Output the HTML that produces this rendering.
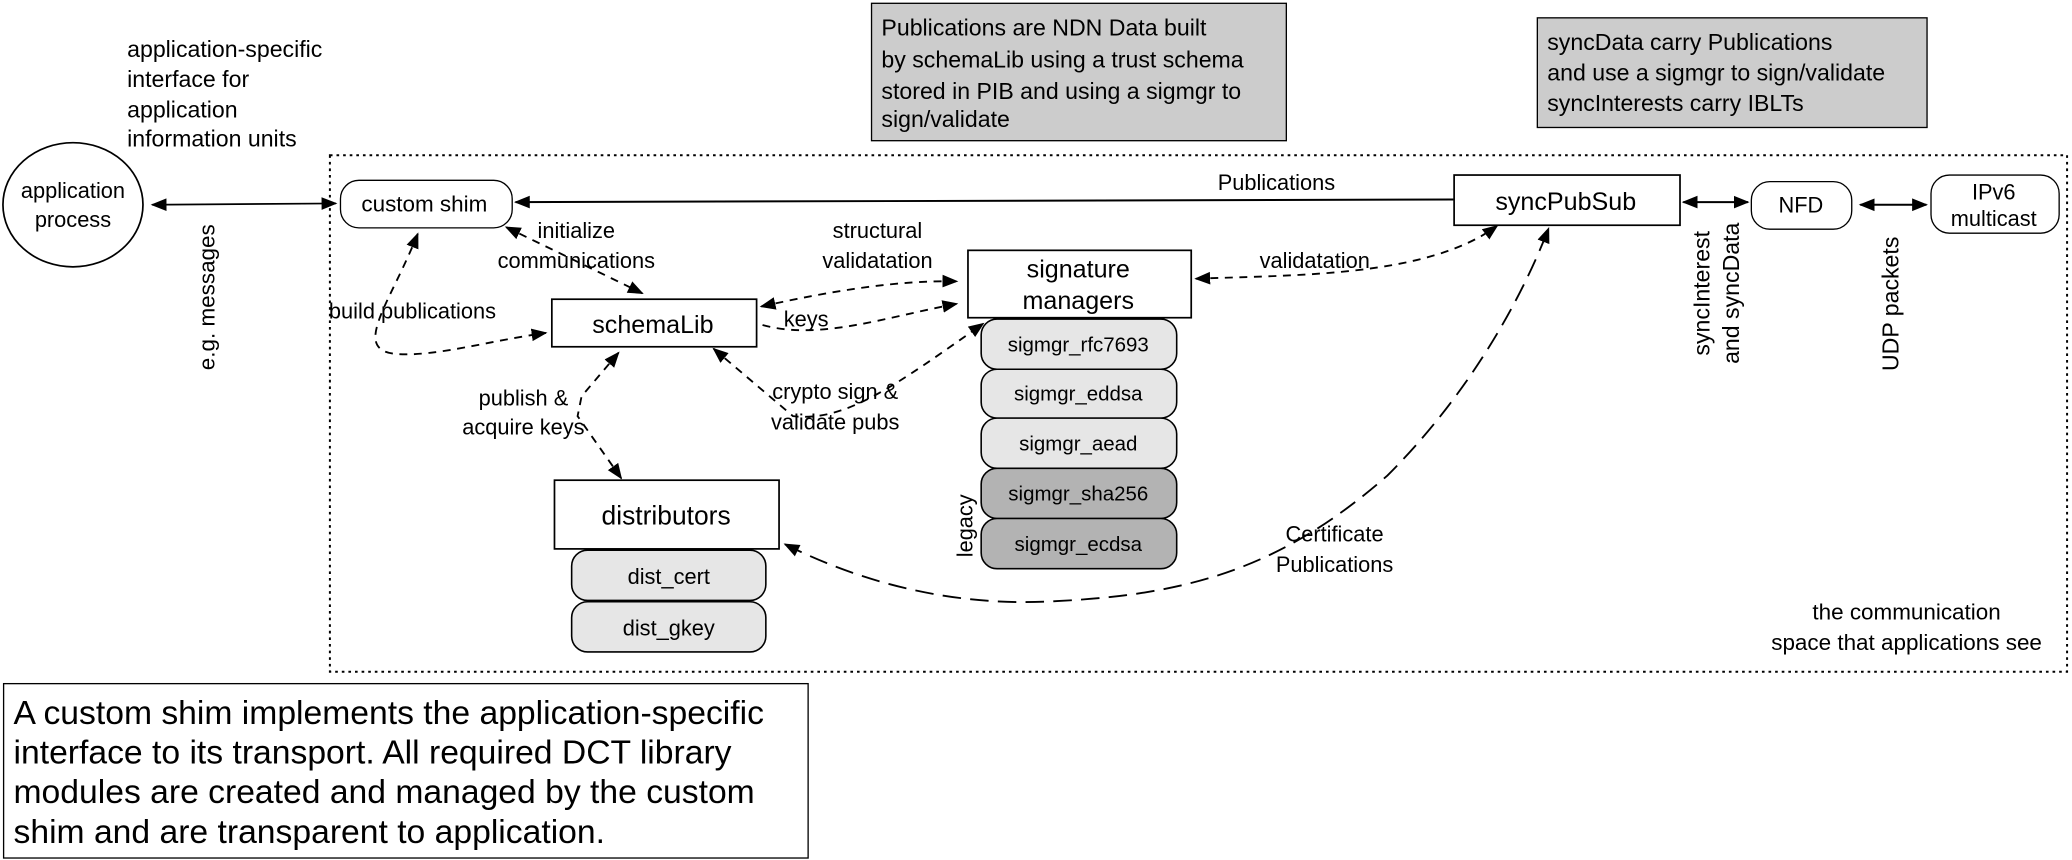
<!DOCTYPE html>
<html><head><meta charset="utf-8"><style>
html,body{margin:0;padding:0;background:#fff}
svg{display:block}
text{font-family:"Liberation Sans",Arial,sans-serif;fill:#000}
</style></head><body>
<svg width="2072" height="860" viewBox="0 0 1568 651" xmlns="http://www.w3.org/2000/svg">
<defs>
<marker id="b" viewBox="0 0 10 10" refX="9" refY="5" markerWidth="12" markerHeight="12" orient="auto-start-reverse" markerUnits="userSpaceOnUse"><path d="M0,1 L10,5 L0,9 z" fill="#000"/></marker>
</defs>
<rect width="1568" height="651" fill="#fff"/>

<rect x="659.5" y="2.5" width="314" height="104" fill="#cccccc" stroke="#000"/>
<g font-size="17.5"><text x="667" y="27">Publications are NDN Data built</text>
<text x="667" y="51">by schemaLib using a trust schema</text>
<text x="667" y="75">stored in PIB and using a sigmgr to</text>
<text x="667" y="96">sign/validate</text></g>
<rect x="1163.5" y="13.5" width="295" height="83" fill="#cccccc" stroke="#000"/>
<g font-size="17.5"><text x="1171" y="38">syncData carry Publications</text>
<text x="1171" y="61">and use a sigmgr to sign/validate</text>
<text x="1171" y="84">syncInterests carry IBLTs</text></g>

<g font-size="17.5"><text x="96" y="43">application-specific</text>
<text x="96" y="66">interface for</text><text x="96" y="89">application</text>
<text x="96" y="111">information units</text></g>
<ellipse cx="55" cy="155" rx="53" ry="47" fill="#fff" stroke="#000" stroke-width="1.3"/>
<text x="55" y="150" font-size="16.5" text-anchor="middle">application</text>
<text x="55" y="172" font-size="16.5" text-anchor="middle">process</text>
<line x1="115" y1="155" x2="254" y2="154" stroke="#000" stroke-width="1.3" marker-start="url(#b)" marker-end="url(#b)"/>
<text transform="translate(162,225) rotate(-90)" font-size="17" text-anchor="middle">e.g. messages</text>

<rect x="249.5" y="117.5" width="1315" height="391" fill="none" stroke="#000" stroke-width="1.5" stroke-dasharray="2,3"/>

<rect x="257.5" y="136.5" width="130" height="36" rx="14" fill="#fff" stroke="#000"/>
<text x="321" y="160" font-size="17" text-anchor="middle">custom shim</text>
<line x1="1100" y1="151" x2="390" y2="153" stroke="#000" stroke-width="1.5" marker-end="url(#b)"/>
<text x="966" y="144" font-size="16.5" text-anchor="middle">Publications</text>
<rect x="1100.5" y="132.5" width="171" height="38" fill="#fff" stroke="#000" stroke-width="1.3"/>
<text x="1185" y="159" font-size="19" text-anchor="middle">syncPubSub</text>
<rect x="1325.5" y="137.5" width="76" height="36" rx="14" fill="#fff" stroke="#000"/>
<text x="1363" y="161" font-size="16.5" text-anchor="middle">NFD</text>
<rect x="1461.5" y="132.5" width="97" height="44" rx="14" fill="#fff" stroke="#000"/>
<text x="1509" y="151" font-size="16.5" text-anchor="middle">IPv6</text>
<text x="1509" y="171" font-size="16.5" text-anchor="middle">multicast</text>
<line x1="1274" y1="153" x2="1323" y2="153" stroke="#000" stroke-width="1.5" marker-start="url(#b)" marker-end="url(#b)"/>
<line x1="1408" y1="155" x2="1458" y2="155" stroke="#000" stroke-width="1.5" marker-start="url(#b)" marker-end="url(#b)"/>
<text transform="translate(1294,222) rotate(-90)" font-size="17.5" text-anchor="middle">syncInterest</text>
<text transform="translate(1316,222) rotate(-90)" font-size="17.5" text-anchor="middle">and syncData</text>
<text transform="translate(1437,230) rotate(-90)" font-size="17.5" text-anchor="middle">UDP packets</text>

<rect x="417.5" y="226.5" width="155" height="36" fill="#fff" stroke="#000" stroke-width="1.3"/>
<text x="494" y="252" font-size="19" text-anchor="middle">schemaLib</text>
<rect x="732.5" y="189.5" width="169" height="51" fill="#fff" stroke="#000" stroke-width="1.3"/>
<text x="816" y="210" font-size="19" text-anchor="middle">signature</text>
<text x="816" y="234" font-size="19" text-anchor="middle">managers</text>
<g stroke="#000" stroke-width="1.2">
<rect x="742.5" y="241.5" width="148" height="38" rx="12" fill="#e6e6e6"/>
<rect x="742.5" y="279.5" width="148" height="37" rx="12" fill="#e6e6e6"/>
<rect x="742.5" y="316.5" width="148" height="38" rx="12" fill="#e6e6e6"/>
<rect x="742.5" y="354.5" width="148" height="38" rx="12" fill="#b3b3b3"/>
<rect x="742.5" y="392.5" width="148" height="38" rx="12" fill="#b3b3b3"/>
</g>
<g font-size="15.5" text-anchor="middle">
<text x="816" y="266">sigmgr_rfc7693</text>
<text x="816" y="303">sigmgr_eddsa</text>
<text x="816" y="341">sigmgr_aead</text>
<text x="816" y="379">sigmgr_sha256</text>
<text x="816" y="417">sigmgr_ecdsa</text>
</g>
<text transform="translate(736,398) rotate(-90)" font-size="16.5" text-anchor="middle">legacy</text>

<rect x="419.5" y="363.5" width="170" height="52" fill="#fff" stroke="#000" stroke-width="1.3"/>
<text x="504" y="397" font-size="20" text-anchor="middle">distributors</text>
<rect x="432.5" y="416.5" width="147" height="38" rx="12" fill="#e6e6e6" stroke="#000" stroke-width="1.2"/>
<rect x="432.5" y="455.5" width="147" height="38" rx="12" fill="#e6e6e6" stroke="#000" stroke-width="1.2"/>
<text x="506" y="442" font-size="16.5" text-anchor="middle">dist_cert</text>
<text x="506" y="481" font-size="16.5" text-anchor="middle">dist_gkey</text>

<g fill="none" stroke="#000" stroke-width="1.4" stroke-dasharray="6,5">
<path d="M383,172 L486,222" marker-start="url(#b)" marker-end="url(#b)"/>
<path d="M316,177 C295,230 265,265 300,268 C330,270 370,258 413,252" marker-start="url(#b)" marker-end="url(#b)"/>
<path d="M576,232 C630,220 680,212 724,213" marker-start="url(#b)" marker-end="url(#b)"/>
<path d="M577,246 C620,258 670,240 724,230" marker-end="url(#b)"/>
<path d="M468,267 L440,300 L437,315 L470,362" marker-start="url(#b)" marker-end="url(#b)"/>
<path d="M540,264 L600,315 C640,320 680,290 744,245" marker-start="url(#b)" marker-end="url(#b)"/>
<path d="M905,211 C980,208 1080,210 1133,171" marker-start="url(#b)" marker-end="url(#b)"/>
</g>
<path d="M594,412 C650,440 720,460 800,455 C900,450 970,430 1050,360 C1110,300 1150,230 1172,173" fill="none" stroke="#000" stroke-width="1.4" stroke-dasharray="14,7" marker-start="url(#b)" marker-end="url(#b)"/>

<g font-size="16.5" text-anchor="middle">
<text x="436" y="180">initialize</text>
<text x="436" y="203">communications</text>
<text x="664" y="180">structural</text>
<text x="664" y="203">validatation</text>
<text x="312" y="241">build publications</text>
<text x="610" y="247">keys</text>
<text x="396" y="307">publish &amp;</text>
<text x="396" y="329">acquire keys</text>
<text x="632" y="302">crypto sign &amp;</text>
<text x="632" y="325">validate pubs</text>
<text x="995" y="203">validatation</text>
<text x="1010" y="410">Certificate</text>
<text x="1010" y="433">Publications</text>
<text x="1443" y="469" font-size="17">the communication</text>
<text x="1443" y="492" font-size="17">space that applications see</text>
</g>

<rect x="2.5" y="517.5" width="609" height="132" fill="#fff" stroke="#000" stroke-width="1"/>
<g font-size="25.5">
<text x="10" y="548">A custom shim implements the application-specific</text>
<text x="10" y="578">interface to its transport. All required DCT library</text>
<text x="10" y="608">modules are created and managed by the custom</text>
<text x="10" y="638">shim and are transparent to application.</text>
</g>
</svg>
</body></html>
